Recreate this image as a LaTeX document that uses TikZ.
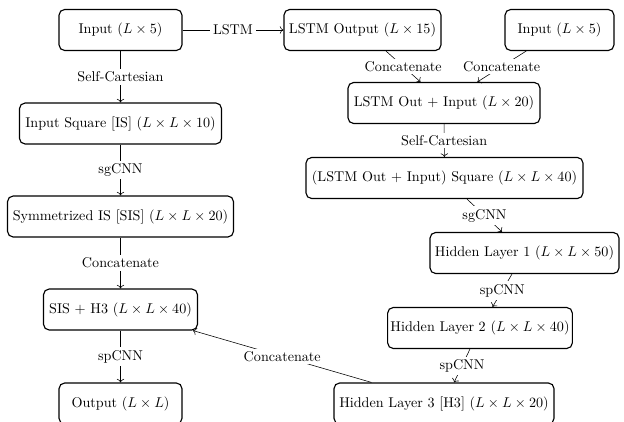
\documentclass[tikz,border=0pt]{standalone}
\usetikzlibrary{arrows.meta}
\begin{document}
\begin{tikzpicture}[x=0.7067pt,y=-0.7067pt,
  box/.style={draw,thick,rounded corners=4pt,minimum height=29pt,inner sep=2pt,align=center},
  conn/.style={->,thin},
  lbl/.style={fill=white,inner sep=2pt}]
\useasboundingbox (0,0) rectangle (624,422);
\clip (0,0) rectangle (624,422);
% left column
\node[box,minimum width=86.9pt] (in1) at (120.5,30) {Input ($L\times5$)};
\node[box,minimum width=142.8pt] (is) at (120.5,123.5) {Input Square [IS] ($L\times L\times10$)};
\node[box,minimum width=159.7pt] (sis) at (120.5,216.5) {Symmetrized IS [SIS] ($L\times L\times20$)};
\node[box,minimum width=108.8pt] (sh3) at (120.5,309.5) {SIS + H3 ($L\times L\times40$)};
\node[box,minimum width=86.9pt] (out) at (120.5,403.5) {Output ($L\times L$)};
% right part
\node[box,minimum width=111pt] (lstm) at (362.5,30) {LSTM Output ($L\times15$)};
\node[box,minimum width=77pt] (in2) at (559.5,30) {Input ($L\times5$)};
\node[box,minimum width=135.7pt] (cat) at (444,103) {LSTM Out + Input ($L\times20$)};
\node[box,minimum width=195.8pt] (sq) at (444.5,178) {(LSTM Out + Input) Square ($L\times L\times40$)};
\node[box,minimum width=133.6pt] (hl1) at (524.5,253) {Hidden Layer 1 ($L\times L\times50$)};
\node[box,minimum width=127.2pt] (hl2) at (480,328) {Hidden Layer 2 ($L\times L\times40$)};
\node[box,minimum width=155.5pt] (hl3) at (444,403.5) {Hidden Layer 3 [H3] ($L\times L\times20$)};
% connectors
\draw[conn] (in1) -- node[lbl] (l1) {LSTM} (lstm);
\draw[conn] (in1) -- node[lbl] (l2) {Self-Cartesian} (is);
\draw[conn] (is) -- node[lbl] (l3) {sgCNN} (sis);
\draw[conn] (sis) -- node[lbl] (l4) {Concatenate} (sh3);
\draw[conn] (sh3) -- node[lbl] (l5) {spCNN} (out);
\draw[conn] (lstm) -- node[lbl] (l6) {Concatenate} (cat);
\draw[conn] (in2) -- node[lbl] (l7) {Concatenate} (cat);
\draw[conn] (cat) -- node[lbl] (l8) {Self-Cartesian} (sq);
\draw[conn] (sq) -- node[lbl] (l9) {sgCNN} (hl1);
\draw[conn] (hl1) -- node[lbl] (l10) {spCNN} (hl2);
\draw[conn] (hl2) -- node[lbl] (l11) {spCNN} (hl3);
\draw[conn] (hl3) -- node[lbl] (l12) {Concatenate} (sh3);
\end{tikzpicture}
\end{document}
